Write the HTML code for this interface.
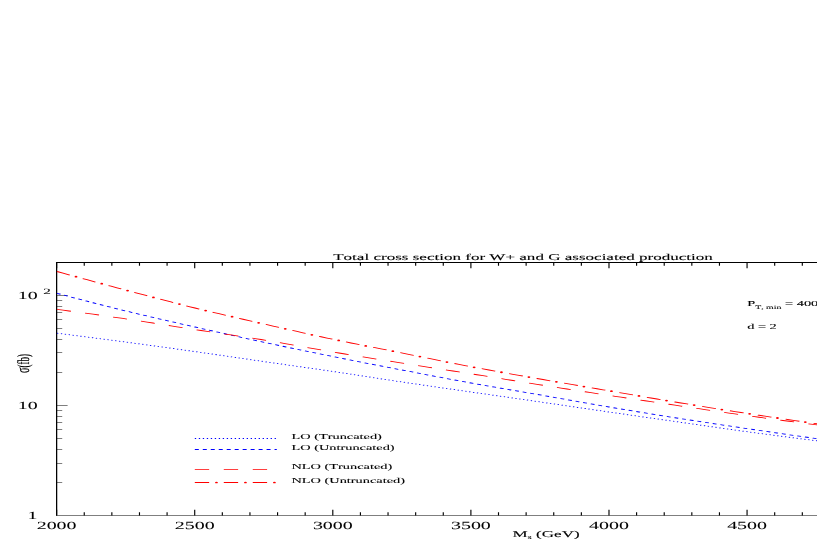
<!DOCTYPE html>
<html><head><meta charset="utf-8"><title>Chart</title>
<style>html,body{margin:0;padding:0;background:#fff;overflow:hidden}svg{display:block;will-change:transform}text{font-family:"Liberation Serif",serif;font-kerning:none;font-variant-ligatures:none;text-rendering:geometricPrecision}</style>
</head><body>
<svg width="817" height="545" viewBox="0 0 817 545">
<rect width="817" height="545" fill="#fff"/>
<g transform="scale(1.9,1)">
<g stroke="#000" stroke-width="0.68" fill="none" stroke-linecap="butt">
<path stroke-width="0.8" d="M442.11 262.5 H29.46"/>
<path stroke-width="0.6" d="M442.11 515.5 H29.46"/>
<path d="M29.80 262.5 V515.5"/>
<path stroke-width="0.6" d="M29.80 262.5 v5.8 M29.80 515.5 v-5.8 M44.34 262.5 v3.3 M44.34 515.5 v-3.3 M58.87 262.5 v3.3 M58.87 515.5 v-3.3 M73.41 262.5 v3.3 M73.41 515.5 v-3.3 M87.94 262.5 v3.3 M87.94 515.5 v-3.3 M102.48 262.5 v5.8 M102.48 515.5 v-5.8 M117.01 262.5 v3.3 M117.01 515.5 v-3.3 M131.55 262.5 v3.3 M131.55 515.5 v-3.3 M146.09 262.5 v3.3 M146.09 515.5 v-3.3 M160.62 262.5 v3.3 M160.62 515.5 v-3.3 M175.16 262.5 v5.8 M175.16 515.5 v-5.8 M189.69 262.5 v3.3 M189.69 515.5 v-3.3 M204.23 262.5 v3.3 M204.23 515.5 v-3.3 M218.77 262.5 v3.3 M218.77 515.5 v-3.3 M233.30 262.5 v3.3 M233.30 515.5 v-3.3 M247.84 262.5 v5.8 M247.84 515.5 v-5.8 M262.37 262.5 v3.3 M262.37 515.5 v-3.3 M276.91 262.5 v3.3 M276.91 515.5 v-3.3 M291.44 262.5 v3.3 M291.44 515.5 v-3.3 M305.98 262.5 v3.3 M305.98 515.5 v-3.3 M320.52 262.5 v5.8 M320.52 515.5 v-5.8 M335.05 262.5 v3.3 M335.05 515.5 v-3.3 M349.59 262.5 v3.3 M349.59 515.5 v-3.3 M364.12 262.5 v3.3 M364.12 515.5 v-3.3 M378.66 262.5 v3.3 M378.66 515.5 v-3.3 M393.19 262.5 v5.8 M393.19 515.5 v-5.8 M407.73 262.5 v3.3 M407.73 515.5 v-3.3 M422.27 262.5 v3.3 M422.27 515.5 v-3.3 M436.80 262.5 v3.3 M436.80 515.5 v-3.3 "/>
<path stroke-width="0.72" d="M29.80 482.50 h2.95 M29.80 463.50 h2.95 M29.80 449.50 h2.95 M29.80 438.50 h2.95 M29.80 429.50 h2.95 M29.80 422.50 h2.95 M29.80 416.50 h2.95 M29.80 410.50 h2.95 M29.80 405.50 h5.79 M29.80 372.50 h2.95 M29.80 352.50 h2.95 M29.80 339.50 h2.95 M29.80 328.50 h2.95 M29.80 319.50 h2.95 M29.80 312.50 h2.95 M29.80 306.50 h2.95 M29.80 300.50 h2.95 M29.80 295.50 h5.79 M29.80 262.50 h2.95 "/>
</g>
<g fill="none" stroke-width="0.85">
<path stroke="#00f" stroke-dasharray="2.1 2.097" d="M30.00 293.30 L33.16 294.91 L36.32 296.50 L39.47 298.08 L42.63 299.65 L45.79 301.21 L48.95 302.75 L52.11 304.28 L55.26 305.80 L58.42 307.30 L61.58 308.79 L64.74 310.27 L67.89 311.73 L71.05 313.17 L74.21 314.60 L77.37 316.01 L80.53 317.41 L83.68 318.80 L86.84 320.18 L90.00 321.55 L93.16 322.92 L96.32 324.28 L99.47 325.64 L102.63 327.00 L105.79 328.36 L108.95 329.71 L112.11 331.07 L115.26 332.41 L118.42 333.75 L121.58 335.09 L124.74 336.42 L127.89 337.74 L131.05 339.06 L134.21 340.36 L137.37 341.66 L140.53 342.94 L143.68 344.22 L146.84 345.49 L150.00 346.75 L153.16 348.01 L156.32 349.26 L159.47 350.50 L162.63 351.73 L165.79 352.96 L168.95 354.18 L172.11 355.39 L175.26 356.60 L178.42 357.80 L181.58 358.99 L184.74 360.17 L187.89 361.34 L191.05 362.51 L194.21 363.67 L197.37 364.83 L200.53 365.98 L203.68 367.13 L206.84 368.28 L210.00 369.43 L213.16 370.57 L216.32 371.72 L219.47 372.87 L222.63 374.02 L225.79 375.17 L228.95 376.31 L232.11 377.45 L235.26 378.58 L238.42 379.70 L241.58 380.81 L244.74 381.91 L247.89 383.00 L251.05 384.07 L254.21 385.13 L257.37 386.17 L260.53 387.21 L263.68 388.24 L266.84 389.26 L270.00 390.28 L273.16 391.30 L276.32 392.32 L279.47 393.35 L282.63 394.38 L285.79 395.42 L288.95 396.48 L292.11 397.53 L295.26 398.60 L298.42 399.66 L301.58 400.73 L304.74 401.79 L307.89 402.85 L311.05 403.91 L314.21 404.95 L317.37 405.98 L320.53 407.00 L323.68 408.01 L326.84 409.01 L330.00 410.00 L333.16 410.99 L336.32 411.97 L339.47 412.95 L342.63 413.92 L345.79 414.88 L348.95 415.84 L352.11 416.79 L355.26 417.73 L358.42 418.67 L361.58 419.60 L364.74 420.52 L367.89 421.44 L371.05 422.35 L374.21 423.25 L377.37 424.15 L380.53 425.05 L383.68 425.94 L386.84 426.83 L390.00 427.71 L393.16 428.60 L396.32 429.48 L399.47 430.36 L402.63 431.24 L405.79 432.11 L408.95 432.98 L412.11 433.85 L415.26 434.71 L418.42 435.57 L421.58 436.43 L424.74 437.28 L427.89 438.14 L431.05 438.99 L434.21 439.85"/>
<path stroke="#00f" stroke-dasharray="0.7 1.4" d="M30.00 333.20 L33.16 333.95 L36.32 334.70 L39.47 335.46 L42.63 336.23 L45.79 337.00 L48.95 337.77 L52.11 338.55 L55.26 339.33 L58.42 340.12 L61.58 340.91 L64.74 341.70 L67.89 342.50 L71.05 343.30 L74.21 344.11 L77.37 344.93 L80.53 345.75 L83.68 346.57 L86.84 347.40 L90.00 348.24 L93.16 349.07 L96.32 349.91 L99.47 350.75 L102.63 351.60 L105.79 352.45 L108.95 353.31 L112.11 354.17 L115.26 355.04 L118.42 355.92 L121.58 356.79 L124.74 357.67 L127.89 358.55 L131.05 359.42 L134.21 360.30 L137.37 361.17 L140.53 362.03 L143.68 362.89 L146.84 363.75 L150.00 364.60 L153.16 365.45 L156.32 366.31 L159.47 367.16 L162.63 368.02 L165.79 368.88 L168.95 369.74 L172.11 370.62 L175.26 371.50 L178.42 372.39 L181.58 373.30 L184.74 374.21 L187.89 375.13 L191.05 376.05 L194.21 376.97 L197.37 377.90 L200.53 378.82 L203.68 379.74 L206.84 380.65 L210.00 381.55 L213.16 382.44 L216.32 383.33 L219.47 384.21 L222.63 385.08 L225.79 385.95 L228.95 386.82 L232.11 387.69 L235.26 388.55 L238.42 389.41 L241.58 390.27 L244.74 391.14 L247.89 392.00 L251.05 392.86 L254.21 393.73 L257.37 394.58 L260.53 395.44 L263.68 396.30 L266.84 397.16 L270.00 398.02 L273.16 398.88 L276.32 399.74 L279.47 400.60 L282.63 401.47 L285.79 402.34 L288.95 403.21 L292.11 404.09 L295.26 404.97 L298.42 405.85 L301.58 406.73 L304.74 407.61 L307.89 408.49 L311.05 409.37 L314.21 410.25 L317.37 411.13 L320.53 412.00 L323.68 412.87 L326.84 413.73 L330.00 414.60 L333.16 415.46 L336.32 416.32 L339.47 417.18 L342.63 418.04 L345.79 418.90 L348.95 419.76 L352.11 420.62 L355.26 421.47 L358.42 422.33 L361.58 423.19 L364.74 424.05 L367.89 424.92 L371.05 425.78 L374.21 426.65 L377.37 427.50 L380.53 428.36 L383.68 429.21 L386.84 430.05 L390.00 430.88 L393.16 431.70 L396.32 432.51 L399.47 433.32 L402.63 434.12 L405.79 434.91 L408.95 435.70 L412.11 436.48 L415.26 437.26 L418.42 438.03 L421.58 438.79 L424.74 439.55 L427.89 440.30 L431.05 441.06 L434.21 441.84"/>
<path stroke="#f00" stroke-dasharray="7.55 7.7" d="M30.00 271.50 L33.16 273.16 L36.32 274.82 L39.47 276.47 L42.63 278.11 L45.79 279.74 L48.95 281.37 L52.11 282.99 L55.26 284.61 L58.42 286.21 L61.58 287.81 L64.74 289.41 L67.89 290.99 L71.05 292.58 L74.21 294.16 L77.37 295.74 L80.53 297.32 L83.68 298.88 L86.84 300.44 L90.00 301.98 L93.16 303.51 L96.32 305.03 L99.47 306.52 L102.63 308.00 L105.79 309.46 L108.95 310.89 L112.11 312.31 L115.26 313.72 L118.42 315.11 L121.58 316.50 L124.74 317.87 L127.89 319.24 L131.05 320.60 L134.21 321.96 L137.37 323.32 L140.53 324.68 L143.68 326.04 L146.84 327.40 L150.00 328.76 L153.16 330.12 L156.32 331.46 L159.47 332.80 L162.63 334.13 L165.79 335.45 L168.95 336.75 L172.11 338.03 L175.26 339.30 L178.42 340.55 L181.58 341.77 L184.74 342.98 L187.89 344.18 L191.05 345.36 L194.21 346.54 L197.37 347.71 L200.53 348.88 L203.68 350.05 L206.84 351.22 L210.00 352.41 L213.16 353.60 L216.32 354.80 L219.47 356.01 L222.63 357.22 L225.79 358.43 L228.95 359.64 L232.11 360.85 L235.26 362.04 L238.42 363.23 L241.58 364.40 L244.74 365.56 L247.89 366.70 L251.05 367.82 L254.21 368.92 L257.37 370.02 L260.53 371.10 L263.68 372.17 L266.84 373.23 L270.00 374.29 L273.16 375.34 L276.32 376.38 L279.47 377.43 L282.63 378.48 L285.79 379.52 L288.95 380.56 L292.11 381.60 L295.26 382.63 L298.42 383.66 L301.58 384.68 L304.74 385.70 L307.89 386.72 L311.05 387.74 L314.21 388.76 L317.37 389.78 L320.53 390.80 L323.68 391.82 L326.84 392.85 L330.00 393.88 L333.16 394.91 L336.32 395.94 L339.47 396.96 L342.63 397.99 L345.79 399.00 L348.95 400.01 L352.11 401.02 L355.26 402.01 L358.42 402.99 L361.58 403.96 L364.74 404.93 L367.89 405.90 L371.05 406.85 L374.21 407.80 L377.37 408.75 L380.53 409.69 L383.68 410.62 L386.84 411.55 L390.00 412.48 L393.16 413.40 L396.32 414.32 L399.47 415.23 L402.63 416.14 L405.79 417.04 L408.95 417.94 L412.11 418.83 L415.26 419.72 L418.42 420.60 L421.58 421.48 L424.74 422.35 L427.89 423.22 L431.05 424.10 L434.21 424.99"/>
<g fill="#f00" stroke="none"><ellipse cx="40.01" cy="276.74" rx="0.75" ry="0.88"/><ellipse cx="53.54" cy="283.73" rx="0.75" ry="0.88"/><ellipse cx="67.13" cy="290.61" rx="0.75" ry="0.88"/><ellipse cx="80.75" cy="297.43" rx="0.75" ry="0.88"/><ellipse cx="94.43" cy="304.12" rx="0.75" ry="0.88"/><ellipse cx="108.23" cy="310.57" rx="0.75" ry="0.88"/><ellipse cx="122.15" cy="316.74" rx="0.75" ry="0.88"/><ellipse cx="136.13" cy="322.79" rx="0.75" ry="0.88"/><ellipse cx="150.12" cy="328.81" rx="0.75" ry="0.88"/><ellipse cx="164.14" cy="334.76" rx="0.75" ry="0.88"/><ellipse cx="178.25" cy="340.48" rx="0.75" ry="0.88"/><ellipse cx="192.49" cy="345.90" rx="0.75" ry="0.88"/><ellipse cx="206.76" cy="351.20" rx="0.75" ry="0.88"/><ellipse cx="221.00" cy="356.59" rx="0.75" ry="0.88"/><ellipse cx="235.23" cy="362.03" rx="0.75" ry="0.88"/><ellipse cx="249.53" cy="367.28" rx="0.75" ry="0.88"/><ellipse cx="263.92" cy="372.25" rx="0.75" ry="0.88"/><ellipse cx="278.37" cy="377.07" rx="0.75" ry="0.88"/><ellipse cx="292.84" cy="381.84" rx="0.75" ry="0.88"/><ellipse cx="307.32" cy="386.54" rx="0.75" ry="0.88"/><ellipse cx="321.81" cy="391.22" rx="0.75" ry="0.88"/><ellipse cx="336.30" cy="395.93" rx="0.75" ry="0.88"/><ellipse cx="350.79" cy="400.60" rx="0.75" ry="0.88"/><ellipse cx="365.34" cy="405.12" rx="0.75" ry="0.88"/><ellipse cx="379.92" cy="409.51" rx="0.75" ry="0.88"/><ellipse cx="394.53" cy="413.80" rx="0.75" ry="0.88"/><ellipse cx="409.17" cy="418.00" rx="0.75" ry="0.88"/><ellipse cx="423.84" cy="422.11" rx="0.75" ry="0.88"/></g>
<path stroke="#f00" stroke-dasharray="7.55 7.7" d="M30.00 309.40 L33.16 310.18 L36.32 310.97 L39.47 311.76 L42.63 312.57 L45.79 313.39 L48.95 314.21 L52.11 315.04 L55.26 315.89 L58.42 316.74 L61.58 317.60 L64.74 318.46 L67.89 319.34 L71.05 320.24 L74.21 321.15 L77.37 322.07 L80.53 323.01 L83.68 323.95 L86.84 324.90 L90.00 325.85 L93.16 326.80 L96.32 327.74 L99.47 328.68 L102.63 329.60 L105.79 330.51 L108.95 331.41 L112.11 332.30 L115.26 333.18 L118.42 334.06 L121.58 334.95 L124.74 335.84 L127.89 336.73 L131.05 337.65 L134.21 338.57 L137.37 339.52 L140.53 340.49 L143.68 341.49 L146.84 342.51 L150.00 343.56 L153.16 344.61 L156.32 345.68 L159.47 346.76 L162.63 347.83 L165.79 348.89 L168.95 349.95 L172.11 350.98 L175.26 352.00 L178.42 353.00 L181.58 353.99 L184.74 354.97 L187.89 355.94 L191.05 356.91 L194.21 357.87 L197.37 358.83 L200.53 359.78 L203.68 360.73 L206.84 361.68 L210.00 362.63 L213.16 363.57 L216.32 364.51 L219.47 365.45 L222.63 366.38 L225.79 367.30 L228.95 368.23 L232.11 369.15 L235.26 370.07 L238.42 371.00 L241.58 371.93 L244.74 372.86 L247.89 373.80 L251.05 374.75 L254.21 375.70 L257.37 376.66 L260.53 377.62 L263.68 378.58 L266.84 379.55 L270.00 380.51 L273.16 381.47 L276.32 382.43 L279.47 383.38 L282.63 384.33 L285.79 385.27 L288.95 386.20 L292.11 387.14 L295.26 388.07 L298.42 389.00 L301.58 389.92 L304.74 390.84 L307.89 391.76 L311.05 392.67 L314.21 393.59 L317.37 394.49 L320.53 395.40 L323.68 396.30 L326.84 397.20 L330.00 398.09 L333.16 398.98 L336.32 399.87 L339.47 400.76 L342.63 401.64 L345.79 402.52 L348.95 403.40 L352.11 404.28 L355.26 405.16 L358.42 406.04 L361.58 406.92 L364.74 407.80 L367.89 408.69 L371.05 409.57 L374.21 410.45 L377.37 411.32 L380.53 412.19 L383.68 413.06 L386.84 413.91 L390.00 414.76 L393.16 415.60 L396.32 416.43 L399.47 417.25 L402.63 418.07 L405.79 418.88 L408.95 419.69 L412.11 420.49 L415.26 421.28 L418.42 422.07 L421.58 422.85 L424.74 423.62 L427.89 424.39 L431.05 425.17 L434.21 425.96"/>
<path stroke="#00f" stroke-dasharray="0.7 1.4" d="M102.53 438.5 H145.68"/>
<path stroke="#00f" stroke-dasharray="2.1 2.097" d="M102.53 449.5 H145.68"/>
<path stroke="#f00" stroke-dasharray="7.55 7.7" d="M102.53 469.3 H145.68"/>
<path stroke="#f00" stroke-dasharray="7.55 7.7" d="M102.53 482.5 H145.68"/>
<g fill="#f00" stroke="none"><ellipse cx="113.93" cy="482.5" rx="0.75" ry="0.85"/><ellipse cx="129.18" cy="482.5" rx="0.75" ry="0.85"/><ellipse cx="144.43" cy="482.5" rx="0.75" ry="0.85"/></g>
</g>
<g fill="#000" stroke="#000" stroke-width="0.09" font-family="'Liberation Serif', serif">
<text transform="translate(29.80,528.55) scale(0.963,1)" font-size="10.9" text-anchor="middle" stroke-width="0.05">2000</text>
<text transform="translate(102.48,528.55) scale(0.963,1)" font-size="10.9" text-anchor="middle" stroke-width="0.05">2500</text>
<text transform="translate(175.16,528.55) scale(0.963,1)" font-size="10.9" text-anchor="middle" stroke-width="0.05">3000</text>
<text transform="translate(247.84,528.55) scale(0.963,1)" font-size="10.9" text-anchor="middle" stroke-width="0.05">3500</text>
<text transform="translate(320.52,528.55) scale(0.963,1)" font-size="10.9" text-anchor="middle" stroke-width="0.05">4000</text>
<text transform="translate(393.19,528.55) scale(0.963,1)" font-size="10.9" text-anchor="middle" stroke-width="0.05">4500</text>
<text transform="translate(19.79,518.8) scale(0.963,1)" font-size="10.9" text-anchor="end" stroke-width="0.05">1</text>
<text transform="translate(19.79,408.7) scale(0.963,1)" font-size="10.9" text-anchor="end" stroke-width="0.05">10</text>
<text transform="translate(19.79,298.8) scale(0.963,1)" font-size="10.9" text-anchor="end" stroke-width="0.05">10</text>
<text x="22.84" y="294.2" font-size="8" stroke-width="0.06">2</text>
<text x="175.37" y="260" font-size="8.97">Total cross section for W+ and G associated production</text>
<text x="269.68" y="536.8" font-size="8.97">M<tspan font-size="5.8" dy="2.4" stroke-width="0.05">s</tspan><tspan dy="-2.4"> (GeV)</tspan></text>
<text transform="translate(15.26,373.0) rotate(-90)" font-size="8.97"><tspan font-size="10.2">σ</tspan>(fb)</text>
<text x="153.42" y="439.1" font-size="7.56">LO (Truncated)</text>
<text x="153.42" y="450.3" font-size="7.56">LO (Untruncated)</text>
<text x="153.42" y="469.3" font-size="7.56">NLO (Truncated)</text>
<text x="153.42" y="482.5" font-size="7.56">NLO (Untruncated)</text>
<text x="393.26" y="305.8" font-size="7.56">P<tspan font-size="5.2" dy="2.7" stroke-width="0.05">T, min</tspan><tspan dy="-2.7"> = 400</tspan></text>
<text x="393.26" y="328.5" font-size="7.56">d = 2</text>
</g>
</g>
</svg>
</body></html>
